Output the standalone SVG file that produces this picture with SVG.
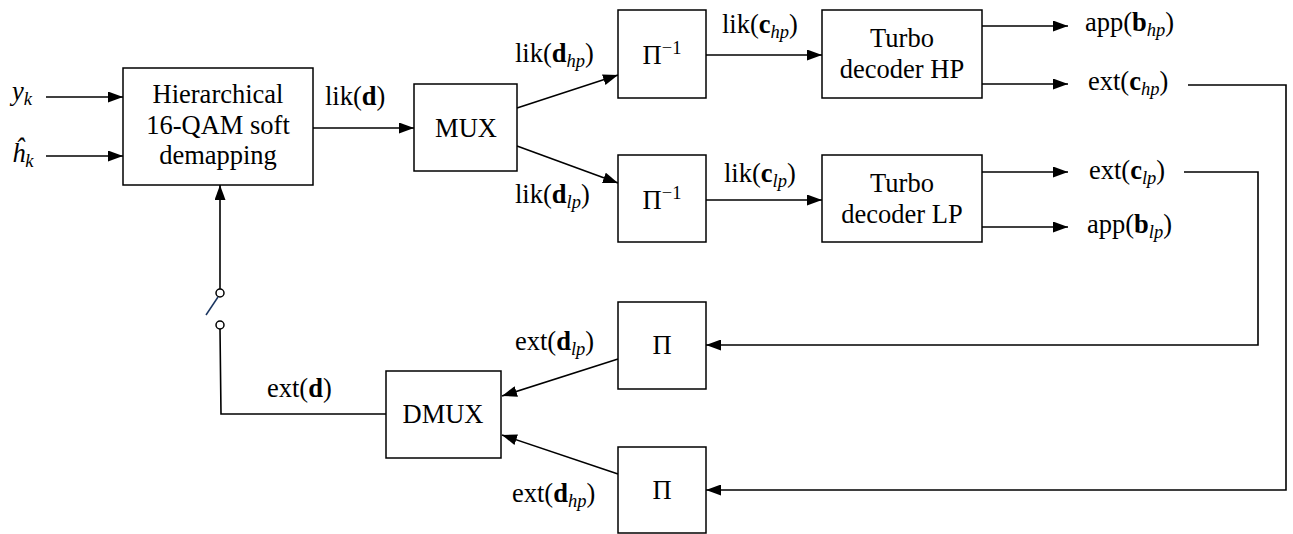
<svg xmlns="http://www.w3.org/2000/svg" width="1293" height="534" viewBox="0 0 1293 534">
<style>
  .box { fill: #fff; stroke: #000; stroke-width: 1.5; }
  .ln { fill: none; stroke: #000; stroke-width: 1.6; }
  .t { font-family: 'Liberation Serif', 'DejaVu Serif', serif; font-size: 26.5px; fill: #000; }
  .c { text-anchor: middle; }
  .b { font-weight: bold; }
  .i { font-style: italic; }
  .s { font-size: 18.5px; font-style: italic; }
  .sup { font-size: 18.5px; }
</style>
<defs>
  <marker id="arr" markerUnits="userSpaceOnUse" markerWidth="15" markerHeight="11" refX="15" refY="5.5" orient="auto">
    <path d="M0,0 L15,5.5 L0,11 z" fill="#000"/>
  </marker>
</defs>

<g id="connectors">
  <line class="ln" x1="46" y1="97" x2="123" y2="97" marker-end="url(#arr)"/>
  <line class="ln" x1="46" y1="156" x2="123" y2="156" marker-end="url(#arr)"/>
  <line class="ln" x1="313" y1="128" x2="414" y2="128" marker-end="url(#arr)"/>
  <line class="ln" x1="517" y1="108" x2="618" y2="75" marker-end="url(#arr)"/>
  <line class="ln" x1="517" y1="146" x2="618" y2="183" marker-end="url(#arr)"/>
  <line class="ln" x1="706" y1="55" x2="822" y2="55" marker-end="url(#arr)"/>
  <line class="ln" x1="706" y1="200" x2="822" y2="200" marker-end="url(#arr)"/>
  <line class="ln" x1="982" y1="26" x2="1068" y2="26" marker-end="url(#arr)"/>
  <line class="ln" x1="982" y1="84" x2="1068" y2="84" marker-end="url(#arr)"/>
  <line class="ln" x1="982" y1="172" x2="1068" y2="172" marker-end="url(#arr)"/>
  <line class="ln" x1="982" y1="227" x2="1068" y2="227" marker-end="url(#arr)"/>
  <polyline class="ln" points="1188,85 1286,85 1286,490 706,490" marker-end="url(#arr)"/>
  <polyline class="ln" points="1184,172 1258,172 1258,345 706,345" marker-end="url(#arr)"/>
  <line class="ln" x1="618" y1="359" x2="502" y2="396" marker-end="url(#arr)"/>
  <line class="ln" x1="618" y1="474" x2="502" y2="435" marker-end="url(#arr)"/>
  <polyline class="ln" points="386,414 221,414 220,329"/>
  <line class="ln" x1="220" y1="289" x2="220" y2="185" marker-end="url(#arr)"/>
  <circle cx="220" cy="293" r="4" fill="#fff" stroke="#000" stroke-width="1.5"/>
  <circle cx="220" cy="325" r="4" fill="#fff" stroke="#000" stroke-width="1.5"/>
  <line x1="206" y1="315" x2="218" y2="297" stroke="#1a3560" stroke-width="1.5"/>
</g>

<g id="inputs">
  <text class="t" x="12" y="100"><tspan class="i">y</tspan><tspan class="s" dy="5">k</tspan></text>
  <text class="t" x="12" y="162"><tspan class="i">ĥ</tspan><tspan class="s" dy="5">k</tspan></text>
</g>

<g id="demapper">
  <rect class="box" x="123" y="68" width="190" height="117"/>
  <text class="t c" x="218" y="103">Hierarchical</text>
  <text class="t c" x="218" y="134">16-QAM soft</text>
  <text class="t c" x="218" y="164">demapping</text>
</g>
<text class="t" x="325" y="105">lik(<tspan class="b">d</tspan>)</text>

<g id="mux">
  <rect class="box" x="414" y="84" width="103" height="87"/>
  <text class="t c" x="466" y="137">MUX</text>
</g>
<text class="t" x="515" y="62">lik(<tspan class="b">d</tspan><tspan class="s" dy="5">hp</tspan><tspan dy="-5">)</tspan></text>
<text class="t" x="515" y="203">lik(<tspan class="b">d</tspan><tspan class="s" dy="5">lp</tspan><tspan dy="-5">)</tspan></text>

<g id="deint-hp">
  <rect class="box" x="618" y="10" width="88" height="88"/>
  <text class="t c" x="662" y="64">Π<tspan class="sup" dy="-10">−1</tspan></text>
</g>
<g id="deint-lp">
  <rect class="box" x="618" y="155" width="88" height="87"/>
  <text class="t c" x="662" y="209">Π<tspan class="sup" dy="-10">−1</tspan></text>
</g>
<text class="t" x="722" y="33">lik(<tspan class="b">c</tspan><tspan class="s" dy="5">hp</tspan><tspan dy="-5">)</tspan></text>
<text class="t" x="724" y="182">lik(<tspan class="b">c</tspan><tspan class="s" dy="5">lp</tspan><tspan dy="-5">)</tspan></text>

<g id="turbo-hp">
  <rect class="box" x="822" y="10" width="160" height="88"/>
  <text class="t c" x="902" y="47">Turbo</text>
  <text class="t c" x="902" y="78">decoder HP</text>
</g>
<g id="turbo-lp">
  <rect class="box" x="822" y="155" width="160" height="87"/>
  <text class="t c" x="902" y="192">Turbo</text>
  <text class="t c" x="902" y="223">decoder LP</text>
</g>

<text class="t" x="1085" y="31">app(<tspan class="b">b</tspan><tspan class="s" dy="5">hp</tspan><tspan dy="-5">)</tspan></text>
<text class="t" x="1088" y="90">ext(<tspan class="b">c</tspan><tspan class="s" dy="5">hp</tspan><tspan dy="-5">)</tspan></text>
<text class="t" x="1089" y="179">ext(<tspan class="b">c</tspan><tspan class="s" dy="5">lp</tspan><tspan dy="-5">)</tspan></text>
<text class="t" x="1087" y="233">app(<tspan class="b">b</tspan><tspan class="s" dy="5">lp</tspan><tspan dy="-5">)</tspan></text>

<g id="int-lp">
  <rect class="box" x="618" y="302" width="88" height="87"/>
  <text class="t c" x="662" y="354">Π</text>
</g>
<g id="int-hp">
  <rect class="box" x="618" y="447" width="88" height="86"/>
  <text class="t c" x="662" y="499">Π</text>
</g>
<text class="t" x="515" y="350">ext(<tspan class="b">d</tspan><tspan class="s" dy="5">lp</tspan><tspan dy="-5">)</tspan></text>
<text class="t" x="512" y="502">ext(<tspan class="b">d</tspan><tspan class="s" dy="5">hp</tspan><tspan dy="-5">)</tspan></text>

<g id="dmux">
  <rect class="box" x="386" y="371" width="115" height="87"/>
  <text class="t c" x="443" y="423">DMUX</text>
</g>
<text class="t" x="267" y="397">ext(<tspan class="b">d</tspan>)</text>
</svg>
